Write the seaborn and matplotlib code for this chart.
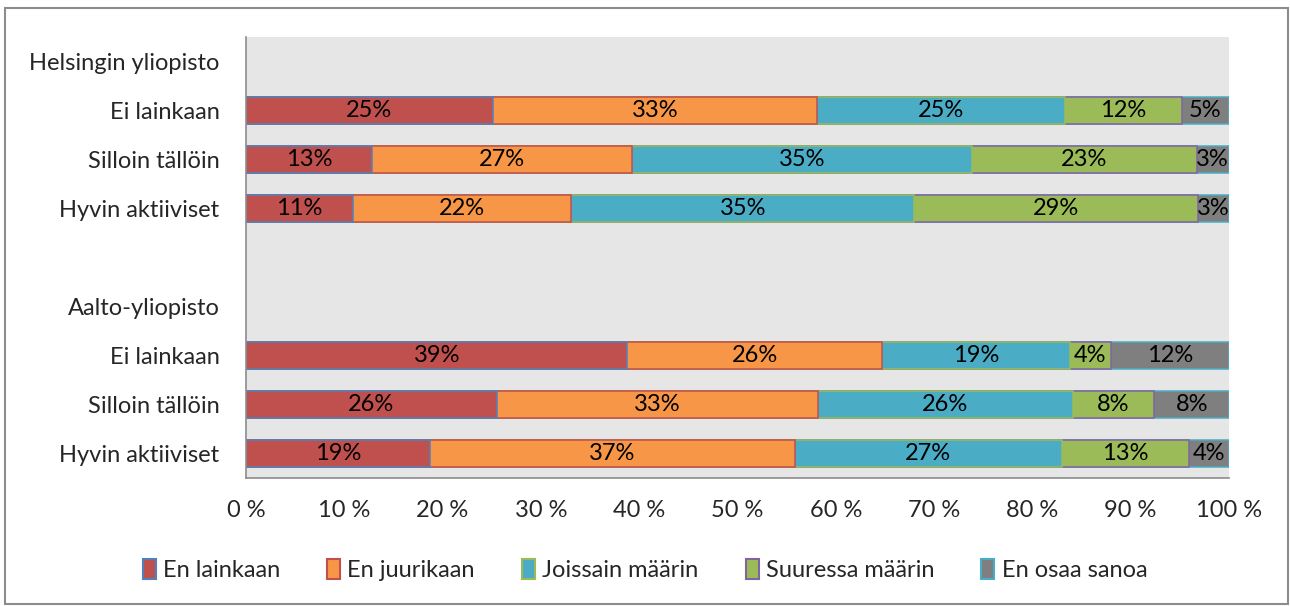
import numpy as np
import pandas as pd
import seaborn as sns
import matplotlib.pyplot as plt
from matplotlib.patches import Patch, Rectangle

# Rows of the chart (top to bottom); header/gap rows have no bars
row_keys = ["hy", "hy_ei", "hy_sil", "hy_hyv", "gap", "aalto", "a_ei", "a_sil", "a_hyv"]
row_labels = ["Helsingin yliopisto", "Ei lainkaan", "Silloin tällöin", "Hyvin aktiiviset", "",
              "Aalto-yliopisto", "Ei lainkaan", "Silloin tällöin", "Hyvin aktiiviset"]
data_rows = ["hy_ei", "hy_sil", "hy_hyv", "a_ei", "a_sil", "a_hyv"]

# Shares in percent for each answer option, same order as data_rows
en_lainkaan = [25.1, 12.8, 10.9, 38.8, 25.5, 18.7]
en_juurikaan = [33.0, 26.5, 22.2, 25.9, 32.7, 37.1]
joissain = [25.2, 34.6, 34.9, 19.1, 25.9, 27.2]
suuressa = [11.9, 22.8, 28.8, 4.2, 8.3, 12.9]
en_osaa = [4.8, 3.3, 3.2, 12.0, 7.6, 4.1]

series_names = ["En lainkaan", "En juurikaan", "Joissain määrin", "Suuressa määrin", "En osaa sanoa"]
series_vals = [en_lainkaan, en_juurikaan, joissain, suuressa, en_osaa]
fills = ["#C0504D", "#F79646", "#4BACC6", "#9BBB59", "#7F7F7F"]
edges = ["#4F81BD", "#C0504D", "#9BBB59", "#8064A2", "#4BACC6"]

tick_vals = [0, 10, 20, 30, 40, 50, 60, 70, 80, 90, 100]

sns.set_style("white")
plt.rcParams["font.family"] = ["Lato", "DejaVu Sans"]
fs = 17

fig = plt.figure(figsize=(12.9, 6.06), dpi=100)
ax = fig.add_axes([0.1907, 0.2112, 0.7620, 0.7278])
ax.set_facecolor("#E6E6E6")

df = pd.DataFrame({name: vals for name, vals in zip(series_names, series_vals)}, index=data_rows)
cum = df.cumsum(axis=1)

# stacked bars: draw cumulative totals from the largest down
for i in reversed(range(len(series_names))):
    sns.barplot(x=cum[series_names[i]].values, y=data_rows, order=row_keys, orient="h",
                color=fills[i], edgecolor=edges[i], linewidth=1.1, saturation=1,
                width=0.57, ax=ax)

# value labels in the middle of each segment
for i, name in enumerate(series_names):
    for r, key in enumerate(data_rows):
        v = df.loc[key, name]
        centre = cum.loc[key, name] - v / 2
        ax.text(centre, row_keys.index(key), f"{int(v + 0.5)}%", ha="center", va="center",
                fontsize=fs, color="black")

ax.set_xlim(0, 100)
ax.set_ylim(len(row_keys) - 0.5, -0.5)
ax.set_xticks(tick_vals)
ax.set_xticklabels([f"{t} %" for t in tick_vals], fontsize=fs)
ax.set_yticks(range(len(row_keys)))
ax.set_yticklabels(row_labels, fontsize=fs)
ax.tick_params(axis="y", length=0, pad=19)
ax.tick_params(axis="x", length=0, pad=16)
ax.set_xlabel("")
ax.set_ylabel("")
for s in ["top", "right"]:
    ax.spines[s].set_visible(False)
for s in ["left", "bottom"]:
    ax.spines[s].set_color("#8C8C8C")
    ax.spines[s].set_linewidth(1.2)

handles = [Patch(facecolor=f, edgecolor=e, linewidth=1.5) for f, e in zip(fills, edges)]
fig.legend(handles, series_names, loc="center", bbox_to_anchor=(0.5, 0.059), ncol=5,
           frameon=False, fontsize=fs, handlelength=0.55, handleheight=0.9,
           handletextpad=0.3, columnspacing=2.0)

# outer chart border
fig.add_artist(Rectangle((0.004, 0.003), 0.9945, 0.984, transform=fig.transFigure,
                         fill=False, edgecolor="#8C8C8C", linewidth=1.5))

fig.savefig("out.png", dpi=100)
